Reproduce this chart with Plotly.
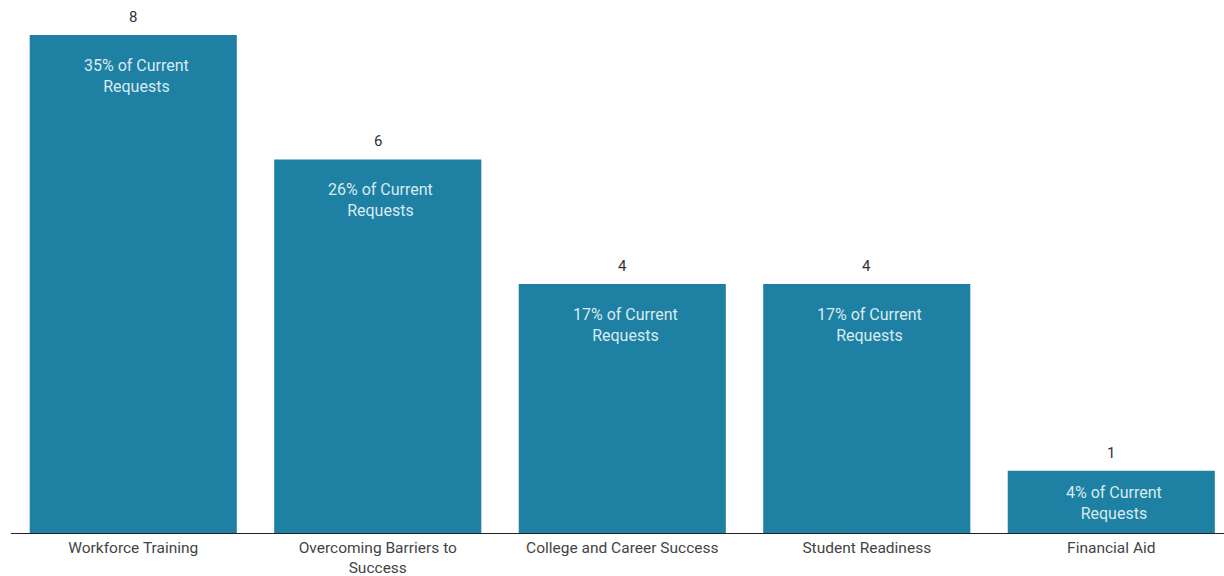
import plotly.graph_objects as go

categories = ["Workforce Training", "Overcoming Barriers to<br>Success",
              "College and Career Success", "Student Readiness", "Financial Aid"]
counts = [8, 6, 4, 4, 1]
share_labels = ["35% of Current<br>Requests", "26% of Current<br>Requests",
                "17% of Current<br>Requests", "17% of Current<br>Requests",
                "4% of Current<br>Requests"]

BAR = "#1e80a2"
FONT = "Roboto"

fig = go.Figure(go.Bar(
    x=list(range(len(categories))), y=counts,
    marker=dict(color=BAR, line=dict(width=0)),
    width=0.847, hoverinfo="skip",
))

for i, (v, s) in enumerate(zip(counts, share_labels)):
    fig.add_annotation(x=i, y=v, xref="x", yref="y", text=str(v),
                       showarrow=False, yanchor="bottom", yshift=7,
                       font=dict(family=FONT, size=15, color="#333333"))
    fig.add_annotation(x=i, y=v, xref="x", yref="y", text=s,
                       showarrow=False, yanchor="top",
                       yshift=-19 if v > 1 else -10, xshift=3,
                       font=dict(family=FONT, size=16, color="#d8ebf1"))

fig.update_layout(
    width=1224, height=576,
    margin=dict(l=11, r=0, t=0, b=43, autoexpand=False),
    paper_bgcolor="white", plot_bgcolor="white",
    showlegend=False,
    font=dict(family=FONT, size=16, color="#444444"),
    xaxis=dict(range=[-0.5, 4.461], tickmode="array",
               tickvals=list(range(len(categories))), ticktext=categories,
               showgrid=False, zeroline=False, showline=True,
               linecolor="#222222", linewidth=1, ticks="",
               automargin=False,
               tickfont=dict(family=FONT, size=15.5, color="#444444")),
    yaxis=dict(range=[0, 8.562], visible=False, showgrid=False, zeroline=False,
               automargin=False),
    bargap=0.153,
)

fig.write_html("out.html")
